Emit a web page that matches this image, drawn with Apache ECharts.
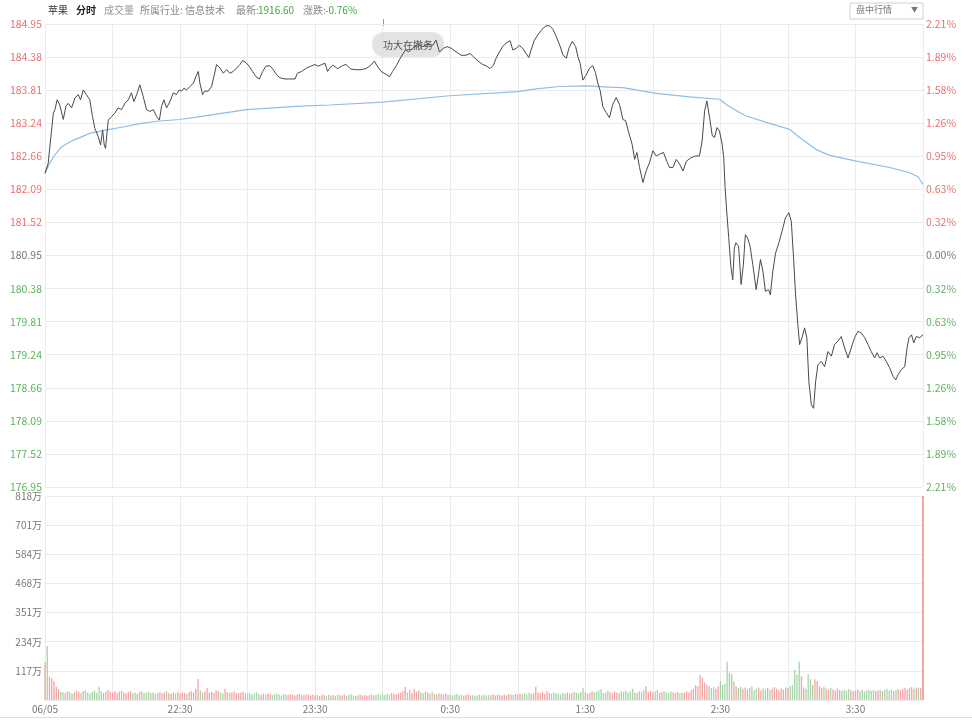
<!DOCTYPE html>
<html><head><meta charset="utf-8">
<script src="https://cdn.jsdelivr.net/npm/echarts@6/dist/echarts.min.js"></script>
<style>html,body{margin:0;padding:0;background:#fff}#c{width:972px;height:720px}</style>
</head><body><div id="c"></div>
<script>
// ---- data (minutes after 21:30) ----
const priceTimes=[0,1.4,3.7,4.4,5.4,6.6,8.1,9.3,10.3,11.8,13.3,14.7,15.8,17.0,18.4,19.9,21.1,22.1,23.6,24.7,25.6,26.3,26.9,28.1,29.6,31.0,32.5,34.0,35.5,37.0,38.4,39.5,41.0,42.1,43.6,45.1,46.6,48.1,49.6,50.8,51.8,52.8,54.0,55.5,57.0,58.4,59.6,60.7,61.7,62.9,64.4,65.9,67.0,68.1,68.8,70.0,71.0,72.5,74.0,75.0,76.2,77.7,79.2,80.7,82.1,83.6,85.1,86.6,87.8,89.3,90.7,92.2,93.7,95.2,96.7,98.1,99.9,101.4,102.9,104.4,106.6,108.8,111.1,112.1,114.0,116.2,118.0,119.9,121.4,122.9,124.4,125.5,126.3,127.8,130.0,132.2,133.7,135.9,138.1,140.4,142.6,144.8,146.3,147.3,149.3,151.5,153.0,154.4,156.2,157.4,158.9,160.1,161.6,163.3,165.6,167.8,170.0,172.2,173.7,175.2,177.0,178.6,180.4,182.6,184.8,187.0,188.8,190.7,192.7,194.4,195.9,197.7,199.2,200.4,201.9,203.3,204.8,206.6,207.8,209.3,210.7,212.2,213.7,214.9,215.9,217.4,218.9,220.8,222.6,224.1,225.6,227.1,228.6,230.1,231.6,232.7,234.2,235.7,236.7,237.7,238.9,240.4,241.9,243.3,244.5,245.6,246.6,247.8,249.3,250.7,252.2,253.7,255.2,256.7,257.9,259.3,260.8,261.9,262.9,264.1,265.6,267.0,268.5,270.0,271.5,273.0,274.7,276.2,277.4,278.9,280.4,281.9,283.4,284.9,287.0,289.0,290.7,291.9,293.0,294.0,295.2,296.4,297.4,298.5,299.6,300.8,301.5,302.1,302.8,303.7,304.7,305.5,306.2,306.9,308.1,309.2,310.2,311.1,312.1,313.2,314.4,315.9,316.9,317.8,318.9,320.0,321.4,322.2,323.3,324.5,326.0,327.4,328.9,330.4,331.5,332.5,333.4,334.4,335.2,336.4,337.4,338.4,339.3,340.4,341.4,342.3,343.3,344.8,346.3,347.8,349.3,350.7,352.2,353.7,355.2,356.7,358.1,359.6,361.1,362.6,364.1,365.6,367.0,368.5,369.6,370.7,372.2,373.7,375.2,376.7,377.9,378.9,380.4,381.9,382.9,383.8,384.9,385.9,387.0,388.5,390.0];
const priceValues=[182.37,182.54,183.41,183.47,183.64,183.55,183.30,183.53,183.58,183.50,183.67,183.73,183.64,183.81,183.73,183.64,183.35,183.15,183.01,182.86,183.12,182.86,182.80,183.29,183.35,183.41,183.50,183.47,183.58,183.64,183.76,183.61,183.76,183.90,183.70,183.47,183.44,183.47,183.35,183.29,183.53,183.64,183.50,183.61,183.76,183.73,183.81,183.79,183.84,183.81,183.87,183.93,184.04,184.13,183.93,183.73,183.79,183.79,183.87,184.04,184.25,184.19,184.10,184.16,184.10,184.13,184.19,184.25,184.32,184.28,184.22,184.13,184.04,184.00,184.13,184.22,184.23,184.16,184.07,184.02,184.00,184.00,184.00,184.10,184.13,184.19,184.22,184.25,184.22,184.25,184.27,184.13,184.18,184.24,184.18,184.23,184.25,184.17,184.16,184.16,184.18,184.24,184.31,184.24,184.13,184.08,184.04,184.13,184.24,184.33,184.43,184.50,184.47,184.53,184.59,184.56,184.60,184.58,184.67,184.47,184.53,184.56,184.53,184.47,184.41,184.41,184.44,184.37,184.30,184.25,184.23,184.18,184.24,184.36,184.47,184.56,184.62,184.66,184.50,184.53,184.58,184.53,184.44,184.37,184.50,184.67,184.76,184.86,184.92,184.92,184.86,184.73,184.59,184.41,184.36,184.53,184.65,184.56,184.39,184.27,183.98,184.07,184.19,184.23,184.11,183.92,183.80,183.52,183.42,183.33,183.56,183.68,183.56,183.30,183.28,183.07,182.87,182.61,182.73,182.47,182.21,182.41,182.55,182.76,182.67,182.70,182.73,182.58,182.47,182.47,182.61,182.53,182.41,182.58,182.64,182.67,182.67,182.93,183.45,183.62,183.33,183.02,182.99,183.16,183.10,182.87,182.64,182.12,181.72,181.26,180.74,180.53,181.08,181.17,181.11,180.45,180.79,181.31,181.25,181.11,180.79,180.36,180.62,180.88,180.68,180.33,180.36,180.27,180.68,180.99,181.17,181.37,181.60,181.69,181.54,180.91,180.27,179.76,179.41,179.55,179.70,179.53,178.77,178.37,178.31,178.77,179.06,179.12,179.03,179.29,179.21,179.41,179.47,179.55,179.35,179.18,179.35,179.53,179.64,179.61,179.53,179.41,179.29,179.18,179.27,179.18,179.21,179.12,179.01,178.86,178.80,178.89,178.98,179.03,179.35,179.53,179.58,179.44,179.55,179.53,179.58];
const avgTimes=[0,2.1,4.4,7.4,12.5,19.9,27.3,34.7,42.1,49.6,59.9,68.8,79.2,89.6,101.4,113.3,126.6,150,179.6,210,218.1,228.5,240.4,250.7,256.7,271.5,286.3,299.6,302.6,308.5,311.5,320.4,330.7,335.2,342.6,348.5,360.4,375.2,384.1,387.8,390];
const avgValues=[182.37,182.55,182.69,182.83,182.94,183.06,183.12,183.17,183.23,183.27,183.30,183.35,183.41,183.47,183.50,183.53,183.55,183.60,183.71,183.78,183.83,183.87,183.88,183.86,183.85,183.75,183.69,183.65,183.56,183.42,183.36,183.25,183.13,182.99,182.78,182.68,182.58,182.47,182.38,182.31,182.18];
// volume per minute, in 万
const volumes=[150,217,93,86,75,53,43,33,30,28,35,32,25,30,38,33,28,36,40,30,25,32,38,30,53,35,28,33,40,32,
30,35,28,33,38,30,26,32,35,28,30,25,33,36,28,30,34,27,30,25,28,32,26,30,35,28,24,30,27,33,
26,30,28,24,32,35,30,45,84,38,30,35,48,30,33,28,40,35,30,26,45,32,28,30,34,26,28,30,32,27,
25,28,22,26,30,24,20,25,22,27,24,20,23,26,22,18,25,22,20,24,21,18,22,25,20,19,23,21,18,22,
18,20,16,22,19,17,21,18,20,16,22,19,18,21,17,20,23,18,16,19,21,18,20,17,19,22,18,20,24,19,
22,20,25,21,28,24,22,26,30,35,52,30,40,28,45,33,38,30,27,34,30,26,32,24,22,28,25,22,26,20,
22,18,20,24,19,21,17,20,22,18,20,16,19,22,18,21,17,20,19,23,18,22,20,17,21,19,24,22,20,25,
22,26,24,28,22,30,25,27,53,30,26,32,24,36,28,25,30,27,24,22,28,26,30,25,27,33,29,26,32,49,
30,26,28,35,30,33,38,43,28,30,36,32,26,34,30,28,36,32,38,30,34,45,30,28,36,33,40,56,32,36,
30,34,40,28,32,36,30,27,34,30,28,32,26,30,28,35,30,40,45,60,55,100,89,70,60,55,48,52,45,55,
76,60,65,153,109,103,75,55,48,52,45,50,42,48,55,40,45,50,38,46,42,48,40,45,52,44,38,46,42,50,
48,55,60,121,100,153,96,50,45,103,83,60,83,76,55,48,52,45,40,48,42,38,45,40,36,42,38,44,40,35,
38,42,36,40,34,38,42,36,40,35,38,42,36,40,45,38,42,36,40,44,38,45,49,42,48,52,45,49,50,48,818];
const priceTicks=['176.95','177.52','178.09','178.66','179.24','179.81','180.38','180.95','181.52','182.09','182.66','183.24','183.81','184.38','184.95'];
const pctTicks=['2.21%','1.89%','1.58%','1.26%','0.95%','0.63%','0.32%','0.00%','0.32%','0.63%','0.95%','1.26%','1.58%','1.89%','2.21%'];
const volTicks=['','117万','234万','351万','468万','584万','701万','818万'];
const timeLabels=['06/05','22:30','23:30','0:30','1:30','2:30','3:30'];
const priceMin=176.95, priceMax=184.95, volMax=818;

// ---- build ----
const RED='#e8706e', GREEN='#5cb35c', GREY='#777';
const FONT='Noto Sans CJK SC';
function priceAt(t){
  for(let i=1;i<priceTimes.length;i++){
    if(t<=priceTimes[i]){const a=priceTimes[i-1],b=priceTimes[i];return priceValues[i-1]+(priceValues[i]-priceValues[i-1])*(t-a)/(b-a);}
  }
  return priceValues[priceValues.length-1];
}
const volData=volumes.map((v,i)=>{
  let up = i===0 ? true : priceAt(i)>=priceAt(i-1);
  if(i===1) up=false;
  if(i===volumes.length-1) up=true;
  let col = up ? '#f2a4a4' : '#a5d5a5';
  if(i===volumes.length-1) col='#f07a7a';
  return {value:[i,v], itemStyle:{color:col}};
});
const tickColor=(v)=>{const k=Math.round(v);return k>7?RED:(k<7?GREEN:GREY);};
const splitStyle={show:true,lineStyle:{color:'#ebebeb',width:1}};
const chart=echarts.init(document.getElementById('c'),null,{renderer:'canvas'});
chart.setOption({
  animation:false,
  backgroundColor:'#fff',
  grid:[{left:45,width:878,top:24,height:463},{left:45,width:878,top:496,height:204}],
  xAxis:[
    {type:'value',gridIndex:0,min:0,max:390,interval:30,axisLine:{show:false},axisTick:{show:false},axisLabel:{show:false},splitLine:splitStyle},
    {type:'value',gridIndex:1,min:0,max:390,interval:30,axisLine:{show:false},axisTick:{show:false},splitLine:splitStyle,
     axisLabel:{show:true,margin:4,color:'#777',fontSize:10,fontFamily:FONT,showMaxLabel:false,
       formatter:(v)=> (v%60===0 && v/60<timeLabels.length) ? timeLabels[v/60] : ''}}
  ],
  yAxis:[
    {type:'value',gridIndex:0,min:priceMin,max:priceMax,show:false,splitLine:{show:false}},
    {type:'value',gridIndex:0,min:0,max:14,interval:1,position:'left',axisLine:{show:false},axisTick:{show:false},splitLine:splitStyle,
     axisLabel:{margin:3,fontSize:10.5,fontFamily:FONT,formatter:(v)=>priceTicks[Math.round(v)],color:(v)=>tickColor(v)}},
    {type:'value',gridIndex:0,min:0,max:14,interval:1,position:'right',axisLine:{show:false},axisTick:{show:false},splitLine:{show:false},
     axisLabel:{margin:3,fontSize:10.5,fontFamily:FONT,formatter:(v)=>pctTicks[Math.round(v)],color:(v)=>tickColor(v)}},
    {type:'value',gridIndex:1,min:0,max:volMax,show:false,splitLine:{show:false}},
    {type:'value',gridIndex:1,min:0,max:7,interval:1,position:'left',axisLine:{show:false},axisTick:{show:false},splitLine:splitStyle,
     axisLabel:{margin:3,fontSize:10,fontFamily:FONT,color:'#777',formatter:(v)=>volTicks[Math.round(v)]}}
  ],
  series:[
    {type:'line',xAxisIndex:0,yAxisIndex:0,showSymbol:false,data:avgTimes.map((t,i)=>[t,avgValues[i]]),lineStyle:{color:'#8dbde8',width:1.2},z:3},
    {type:'line',xAxisIndex:0,yAxisIndex:0,showSymbol:false,data:priceTimes.map((t,i)=>[t,priceValues[i]]),lineStyle:{color:'#4a4a4a',width:1},z:4},
    {type:'bar',xAxisIndex:1,yAxisIndex:3,barWidth:1.3,data:volData}
  ],
  graphic:[
    {type:'text',left:48,top:5,style:{text:'苹果',fill:'#333',font:'10px '+FONT}},
    {type:'text',left:76,top:5,style:{text:'分时',fill:'#222',font:'bold 10px '+FONT}},
    {type:'text',left:104,top:5,style:{text:'成交量',fill:'#999',font:'10px '+FONT}},
    {type:'text',left:140,top:5,style:{text:'所属行业: 信息技术',fill:'#888',font:'10px '+FONT}},
    {type:'text',left:236,top:5,style:{text:'最新:',fill:'#888',font:'10px '+FONT}},
    {type:'text',left:258,top:5,style:{text:'1916.60',fill:'#3ea83e',font:'10px '+FONT}},
    {type:'text',left:303,top:5,style:{text:'涨跌:',fill:'#888',font:'10px '+FONT}},
    {type:'text',left:325,top:5,style:{text:'-0.76%',fill:'#3ea83e',font:'10px '+FONT}},
    {type:'rect',shape:{x:850,y:3,width:73,height:16},style:{fill:'#fff',stroke:'#d0d0d0',lineWidth:1}},
    {type:'text',left:856,top:5,style:{text:'盘中行情',fill:'#777',font:'9px '+FONT}},
    {type:'text',left:911,top:6,style:{text:'▼',fill:'#777',font:'7px '+FONT}},
    {type:'line',shape:{x1:383.5,y1:19,x2:383.5,y2:26},style:{stroke:'#999',lineWidth:1}},
    {type:'rect',shape:{x:372,y:32,width:72,height:25,r:12},style:{fill:'rgba(215,215,215,0.7)'},z:1},
    {type:'text',x:408,y:45,z:1,style:{text:'功大在撤务',fill:'#555',font:'10px '+FONT,textAlign:'center',textVerticalAlign:'middle'}},
    {type:'line',shape:{x1:0,y1:717.5,x2:972,y2:717.5},style:{stroke:'#ddd',lineWidth:1}}
  ]
});
</script>
</body></html>
